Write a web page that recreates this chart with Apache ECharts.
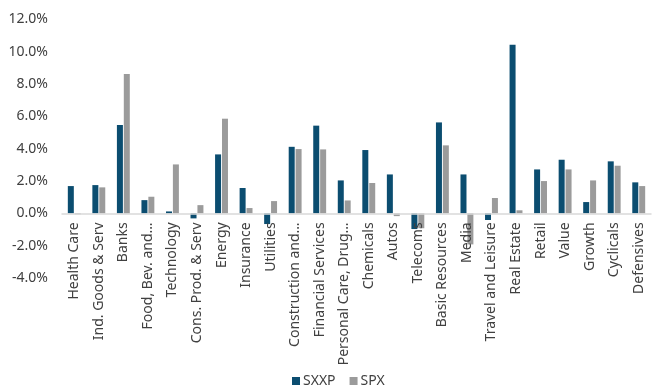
<!DOCTYPE html>
<html>
<head>
<meta charset="utf-8">
<script src="https://cdn.jsdelivr.net/npm/echarts@6/dist/echarts.min.js"></script>
<style>
  html, body { margin: 0; padding: 0; background: #ffffff; }
  #chart { width: 652px; height: 390px; }
</style>
</head>
<body>
<div id="chart"></div>
<script>
// Sector returns, SXXP vs SPX (%)
const categories = [
  'Health Care', 'Ind. Goods & Serv', 'Banks', 'Food, Bev. and\u2026', 'Technology',
  'Cons. Prod. & Serv', 'Energy', 'Insurance', 'Utilities', 'Construction and\u2026',
  'Financial Services', 'Personal Care, Drug\u2026', 'Chemicals', 'Autos', 'Telecoms',
  'Basic Resources', 'Media', 'Travel and Leisure', 'Real Estate', 'Retail',
  'Value', 'Growth', 'Cyclicals', 'Defensives'
];
const sxxp = [1.69, 1.75, 5.47, 0.82, 0.12, -0.31, 3.65, 1.57, -0.66, 4.12,
              5.43, 2.04, 3.92, 2.41, -0.97, 5.63, 2.41, -0.41, 10.44, 2.72,
              3.32, 0.70, 3.22, 1.92];
const spx = [-0.06, 1.61, 8.63, 1.03, 3.03, 0.51, 5.86, 0.33, 0.76, 3.98,
             3.96, 0.80, 1.88, -0.17, -0.92, 4.21, -1.92, 0.95, 0.19, 2.00,
             2.72, 2.04, 2.95, 1.69];
const yTicks = { min: -4, max: 12, step: 2 };

const font = '"Noto Sans", sans-serif';
const textColor = '#404040';

// plot box
const gridTop = 19.5;
const gridBottom = 112;
const gridHeight = 390 - gridTop - gridBottom;
// lift the category axis (line + labels) up to the zero baseline
const zeroLift = gridHeight * (0 - yTicks.min) / (yTicks.max - yTicks.min);

const chart = echarts.init(document.getElementById('chart'));
chart.setOption({
  animation: false,
  textStyle: { fontFamily: font },
  grid: {
    left: 62, right: 1, top: gridTop, bottom: gridBottom,
    containLabel: false,
    outerBoundsMode: 'none'
  },
  legend: {
    top: 374,
    left: 292,
    padding: 0,
    icon: 'rect',
    itemWidth: 8,
    itemHeight: 8,
    itemGap: 14,
    textStyle: { color: textColor, fontSize: 14, fontFamily: font, padding: [0, 0, 0, -2] },
    data: ['SXXP', 'SPX']
  },
  xAxis: {
    type: 'category',
    data: categories,
    position: 'bottom',
    offset: -zeroLift,
    z: 3,
    axisLine: { onZero: false, lineStyle: { color: '#d9d9d9', width: 1.5 } },
    axisTick: { show: false },
    axisLabel: {
      interval: 0,
      rotate: 90,
      margin: 9,
      color: textColor,
      fontSize: 14,
      fontFamily: font
    }
  },
  yAxis: {
    type: 'value',
    min: yTicks.min,
    max: yTicks.max,
    interval: yTicks.step,
    axisLine: { show: false },
    axisTick: { show: false },
    splitLine: { show: false },
    axisLabel: {
      margin: 14,
      color: textColor,
      fontSize: 14,
      fontFamily: font,
      formatter: v => v.toFixed(1) + '%'
    }
  },
  series: [
    {
      name: 'SXXP', type: 'bar', data: sxxp,
      barWidth: 6, barGap: '15%',
      itemStyle: { color: '#0b4d70' }
    },
    {
      name: 'SPX', type: 'bar', data: spx,
      barWidth: 6,
      itemStyle: { color: '#9b9b9b' }
    }
  ]
});
</script>
</body>
</html>
